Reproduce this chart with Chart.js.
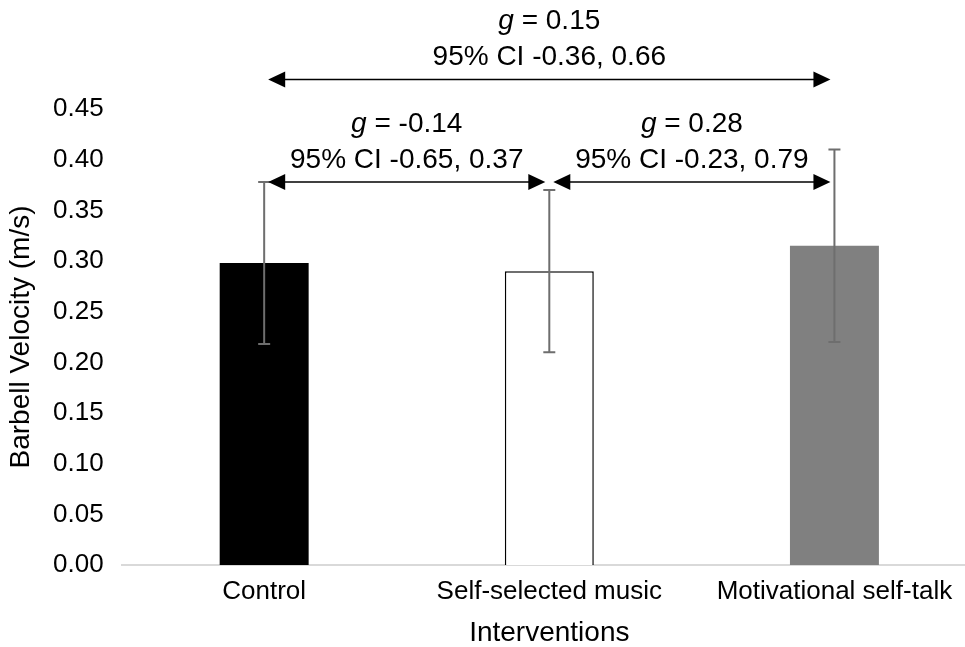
<!DOCTYPE html>
<html>
<head>
<meta charset="utf-8">
<script src="https://cdn.jsdelivr.net/npm/chart.js@4"></script>
<style>
  html, body { margin: 0; padding: 0; background: #fff; overflow: hidden; }
  #wrap { width: 977px; height: 647px; }
</style>
</head>
<body>
<div id="wrap"><canvas id="chart"></canvas></div>
<script>
// datos
const categories = ["Control", "Self-selected music", "Motivational self-talk"];
const means = [0.298, 0.290, 0.315];
const errors = [0.080, 0.080, 0.095];
const yTicks = [0, 0.05, 0.10, 0.15, 0.20, 0.25, 0.30, 0.35, 0.40, 0.45];

// comparaciones (flechas con g de Hedges)
const compFrom = [0, 1, 0];
const compTo = [1, 2, 2];
const compLevel = [0.378, 0.378, 0.479];
const gValues = ["-0.14", "0.28", "0.15"];
const ciLow = ["-0.65", "-0.23", "-0.36"];
const ciHigh = ["0.37", "0.79", "0.66"];

const FONT = "'Liberation Sans', Arial, sans-serif";

// barras de error
const errorBars = {
    id: "errorBars",
    afterDatasetsDraw(chart) {
        const { ctx } = chart;
        const y = chart.scales.y;
        const meta = chart.getDatasetMeta(0);
        ctx.save();
        ctx.strokeStyle = "#6e6e6e";
        ctx.lineWidth = 2;
        meta.data.forEach((bar, i) => {
            const top = y.getPixelForValue(means[i] + errors[i]);
            const bot = y.getPixelForValue(means[i] - errors[i]);
            ctx.beginPath();
            ctx.moveTo(bar.x, top); ctx.lineTo(bar.x, bot);
            ctx.moveTo(bar.x - 6, top); ctx.lineTo(bar.x + 6, top);
            ctx.moveTo(bar.x - 6, bot); ctx.lineTo(bar.x + 6, bot);
            ctx.stroke();
        });
        ctx.restore();
    }
};

function arrowHead(ctx, x, y, dir) {
    ctx.beginPath();
    ctx.moveTo(x, y);
    ctx.lineTo(x - dir * 17, y - 8);
    ctx.lineTo(x - dir * 17, y + 8);
    ctx.closePath();
    ctx.fill();
}

// flechas y textos
const comparisons = {
    id: "comparisons",
    afterDraw(chart) {
        const { ctx } = chart;
        const x = chart.scales.x;
        const y = chart.scales.y;
        ctx.save();
        ctx.strokeStyle = "#000";
        ctx.fillStyle = "#000";
        ctx.lineWidth = 1.5;
        compFrom.forEach((f, i) => {
            const x1 = x.getPixelForValue(f) + 4;
            const x2 = x.getPixelForValue(compTo[i]) - 4;
            const py = y.getPixelForValue(compLevel[i]);
            ctx.beginPath();
            ctx.moveTo(x1 + 10, py); ctx.lineTo(x2 - 10, py);
            ctx.stroke();
            arrowHead(ctx, x1, py, -1);
            arrowHead(ctx, x2, py, 1);

            const cx = (x1 + x2) / 2;
            ctx.textBaseline = "middle";
            ctx.font = "28px " + FONT;
            ctx.textAlign = "center";
            ctx.fillText("95% CI " + ciLow[i] + ", " + ciHigh[i], cx, py - 22);
            // g en cursiva
            const rest = " = " + gValues[i];
            ctx.font = "italic 28px " + FONT;
            const wg = ctx.measureText("g").width;
            ctx.font = "28px " + FONT;
            const wr = ctx.measureText(rest).width;
            const sx = cx - (wg + wr) / 2;
            ctx.textAlign = "left";
            ctx.font = "italic 28px " + FONT;
            ctx.fillText("g", sx, py - 58);
            ctx.font = "28px " + FONT;
            ctx.fillText(rest, sx + wg, py - 58);
        });
        ctx.restore();
    }
};

new Chart(document.getElementById("chart"), {
    type: "bar",
    data: {
        labels: categories,
        datasets: [{
            data: means,
            backgroundColor: ["#000000", "#ffffff", "#808080"],
            borderColor: ["#000000", "#000000", "#808080"],
            borderWidth: [0, 1.5, 0],
            barPercentage: 0.312,
            categoryPercentage: 1
        }]
    },
    options: {
        responsive: true,
        maintainAspectRatio: false,
        animation: false,
        layout: { padding: { top: 109, right: 0, bottom: 0, left: 3 } },
        plugins: {
            legend: { display: false },
            tooltip: { enabled: false }
        },
        scales: {
            x: {
                grid: { display: false, drawTicks: false },
                border: { color: "#d9d9d9", width: 2 },
                ticks: { color: "#000", font: { family: FONT, size: 26, lineHeight: 1 }, padding: 14 },
                title: {
                    display: true, text: "Interventions", color: "#000",
                    font: { family: FONT, size: 28, lineHeight: 1 }, padding: { top: 0, bottom: 0 }
                }
            },
            y: {
                min: 0, max: 0.45,
                afterBuildTicks: (axis) => { axis.ticks = yTicks.map(v => ({ value: v })); },
                grid: { display: false, drawTicks: false },
                border: { display: false },
                ticks: {
                    color: "#000", font: { family: FONT, size: 26, lineHeight: 1 }, padding: 18,
                    callback: (v) => v.toFixed(2)
                },
                title: {
                    display: true, text: "Barbell Velocity (m/s)", color: "#000",
                    font: { family: FONT, size: 28, lineHeight: 1 }, padding: { top: 4, bottom: 0 }
                }
            }
        }
    },
    plugins: [errorBars, comparisons]
});
</script>
</body>
</html>
